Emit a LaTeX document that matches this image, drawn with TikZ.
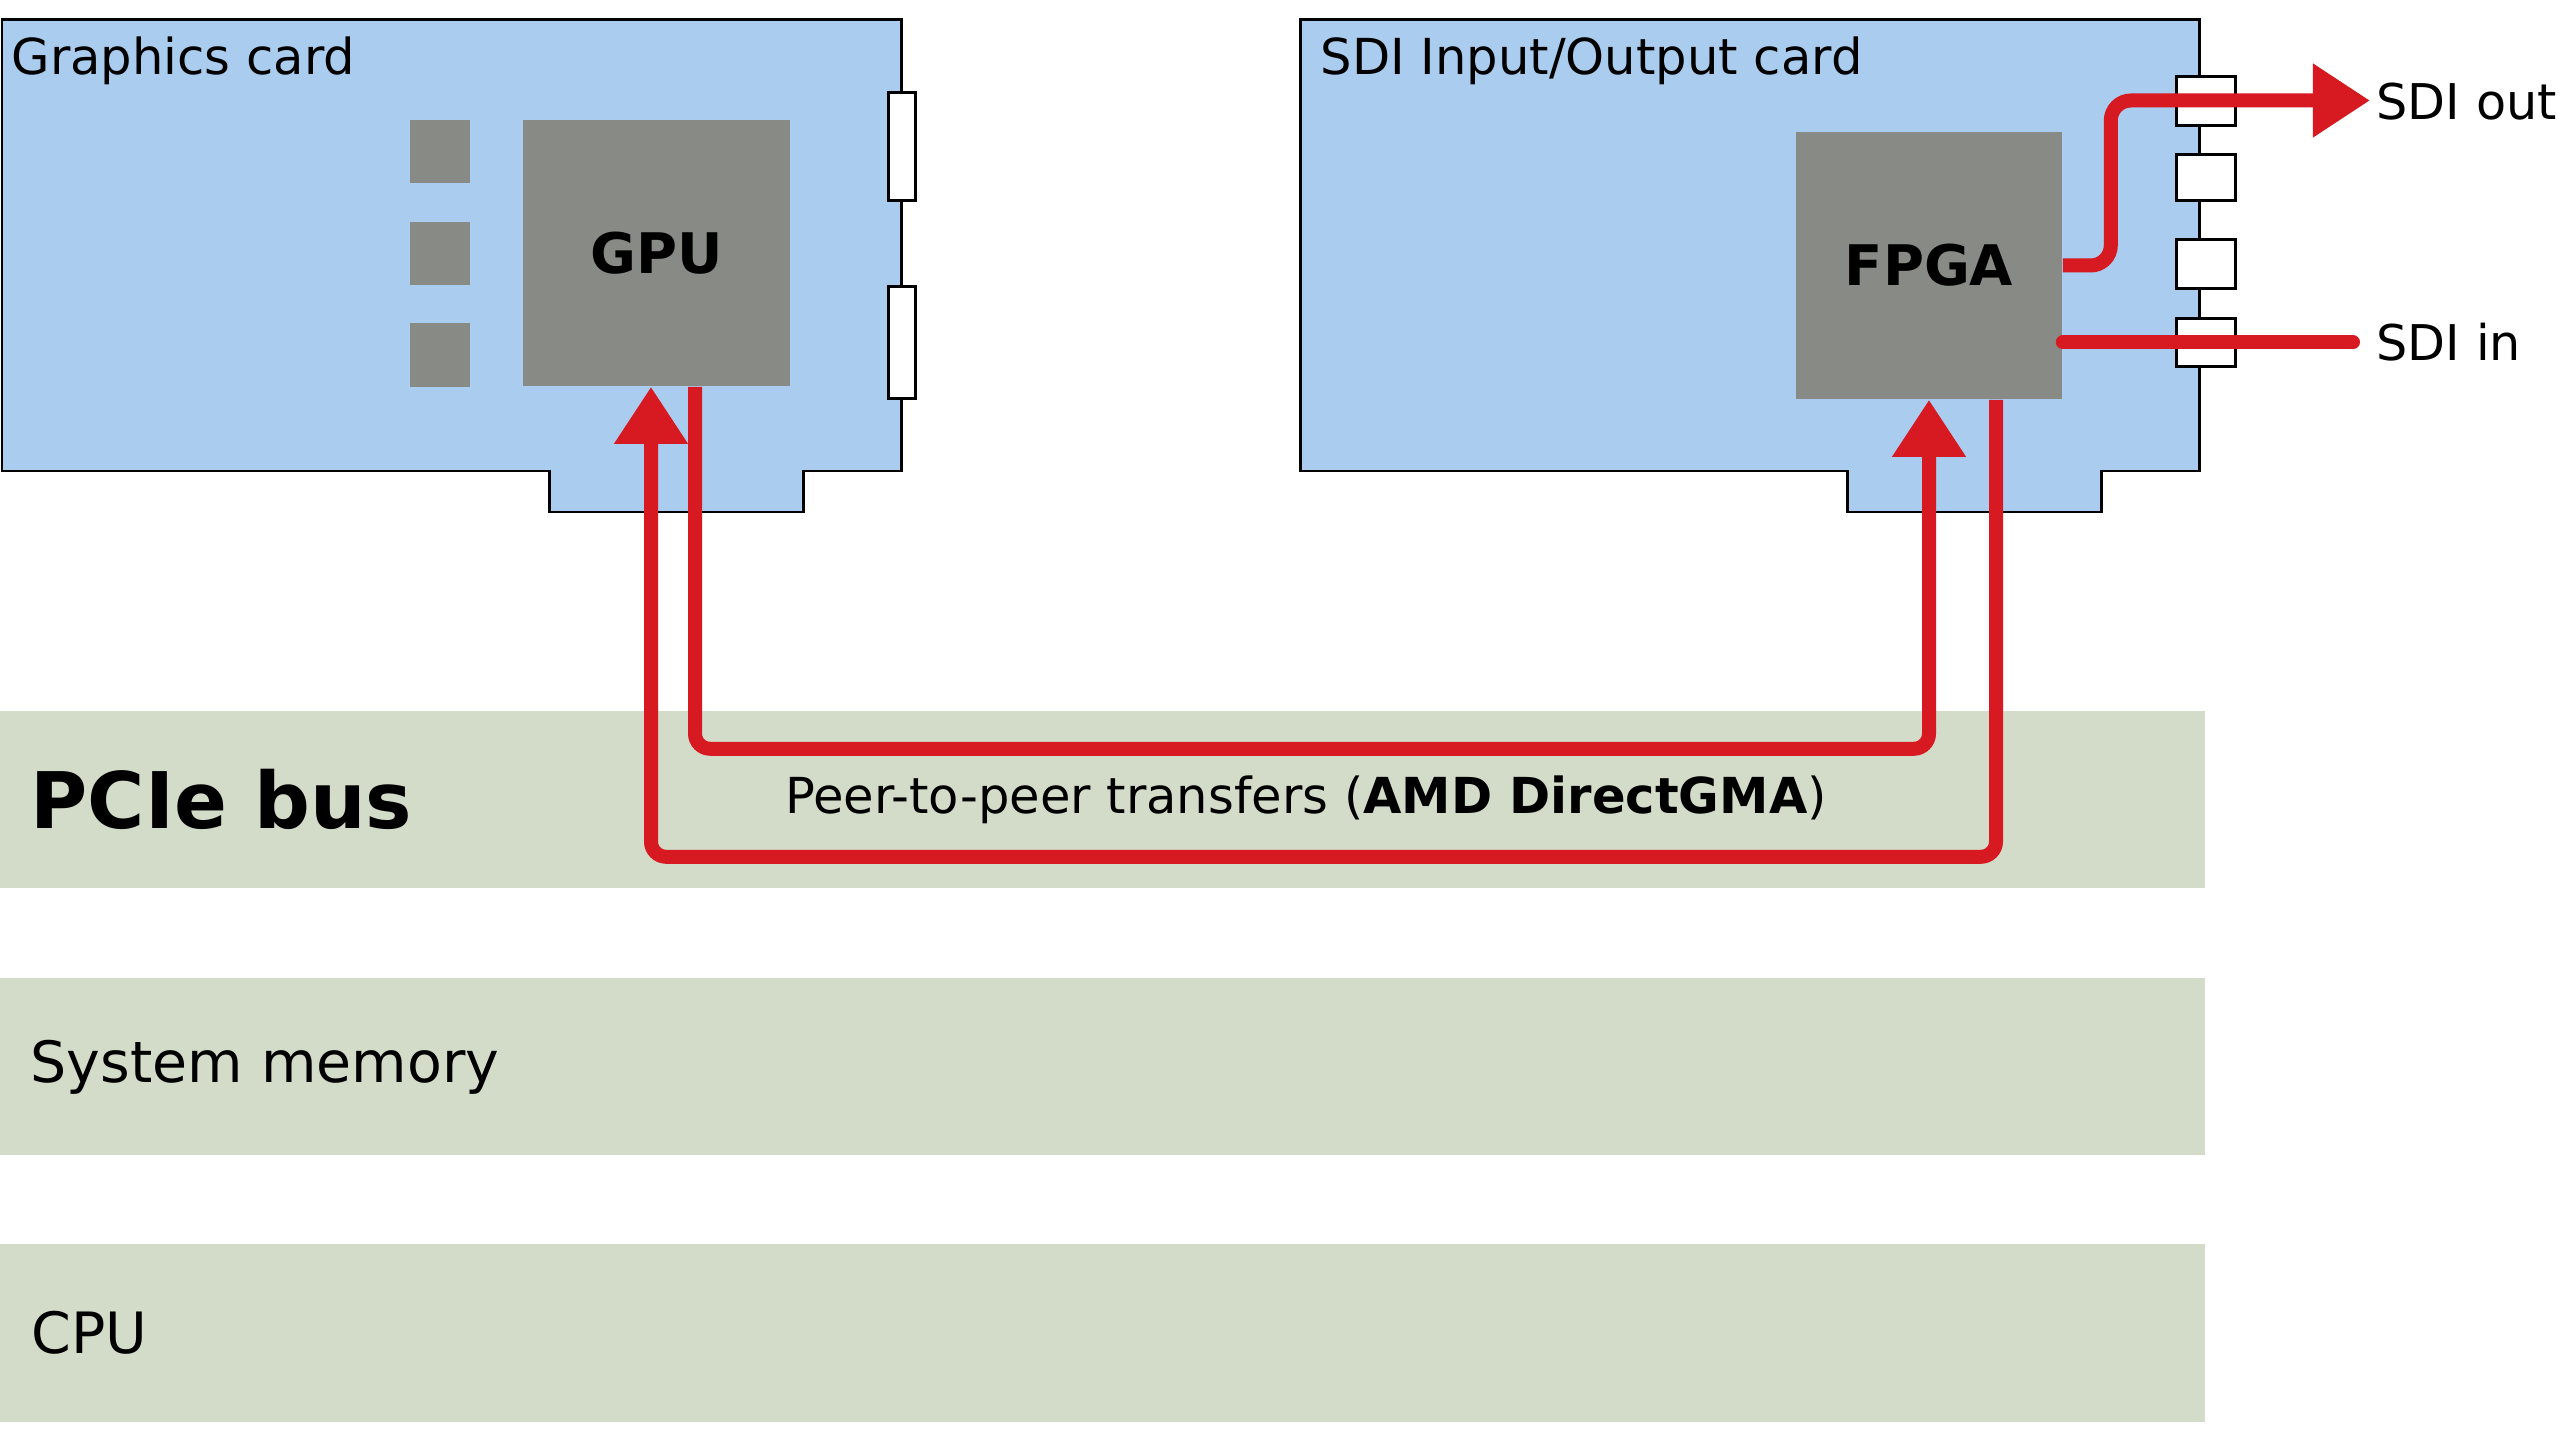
\documentclass[tikz,border=0pt]{standalone}
\usepackage{fontspec}
\setmainfont{DejaVu Sans}
\usetikzlibrary{arrows.meta,calc}
\definecolor{cardblue}{RGB}{170,204,238}
\definecolor{chipgray}{RGB}{136,138,133}
\definecolor{busgreen}{RGB}{211,220,200}
\definecolor{flowred}{RGB}{215,25,33}
\newcommand{\setfs}[1]{\fontsize{#1}{#1}\selectfont}
\begin{document}
\begin{tikzpicture}[x=0.01cm,y=-0.01cm,
  board/.style={fill=cardblue,draw=black,line width=0.85pt,line join=miter},
  chip/.style={fill=chipgray,draw=none,inner sep=0pt,font=\bfseries\setfs{15.9pt}},
  memchip/.style={fill=chipgray,draw=none,inner sep=0pt,minimum width=0.6cm,minimum height=0.63cm},
  port/.style={fill=white,draw=black,line width=0.85pt,inner sep=0pt},
  band/.style={fill=busgreen,draw=none,inner sep=0pt,minimum width=22.04cm,minimum height=1.77cm},
  flow/.style={draw=flowred,line width=3.98pt,rounded corners=4.3pt},
  tip/.style={-{Triangle[width=0.7cm,length=0.57cm]}},
  lbl/.style={anchor=base west,inner sep=0pt,font=\setfs{14.1pt}},
  biglbl/.style={anchor=base west,inner sep=0pt,font=\setfs{16.2pt}}
]
\useasboundingbox (0,0) rectangle (2560,1440);

% bus bands
\node[band] (pcie) at (1102,799.5) {};
\node[band] (sysmem) at (1102,1066.5) {};
\node[band] (cpu) at (1102,1333) {};
\node[anchor=base west,inner sep=0pt,font=\bfseries\setfs{22.2pt}] (pcielbl) at (30,829) {PCIe bus};
\node[biglbl] (sysmemlbl) at (30,1082) {System memory};
\node[biglbl] (cpulbl) at (31,1353) {CPU};

% graphics card
\draw[board] (2,20) -- (901,20) -- (901,471) -- (803,471) -- (803,512) -- (549,512)
  -- (549,471) -- (2,471) -- cycle;
\node[port,minimum width=0.27cm,minimum height=1.07cm] (gp1) at (902,146.5) {};
\node[port,minimum width=0.27cm,minimum height=1.11cm] (gp2) at (902,342.5) {};
\node[memchip] (mem1) at (440,151.5) {};
\node[memchip] (mem2) at (440,253.5) {};
\node[memchip] (mem3) at (440,355) {};
\node[chip,minimum width=2.67cm,minimum height=2.66cm] (gpu) at (656.5,253) {GPU};
\node[lbl] (gclbl) at (11,75) {Graphics card};

% SDI card
\draw[board] (1300,20) -- (2199,20) -- (2199,471) -- (2101,471) -- (2101,512) -- (1847,512)
  -- (1847,471) -- (1300,471) -- cycle;
\node[port,minimum width=0.585cm,minimum height=0.485cm] (sp1) at (2206,100.8) {};
\node[port,minimum width=0.585cm,minimum height=0.46cm] (sp2) at (2206,177.5) {};
\node[port,minimum width=0.585cm,minimum height=0.49cm] (sp3) at (2206,264) {};
\node[port,minimum width=0.585cm,minimum height=0.485cm] (sp4) at (2206,342.3) {};
\node[chip,minimum width=2.66cm,minimum height=2.67cm] (fpga) at (1929,265.5) {FPGA};
\node[lbl] (sdilbl) at (1320,75) {SDI Input/Output card};

% SDI out / in
\coordinate (outtip) at (2370,100.5);
\coordinate (inend) at (2353,342.3);
\draw[flow,tip,rounded corners=5.7pt] (fpga.east) -- ++(48,0) |- (outtip);
\draw[flow,line cap=round] (fpga.east |- inend) -- (inend);
\node[lbl,font=\setfs{14pt}] (outlbl) at (2376,120) {SDI out};
\node[lbl,font=\setfs{14pt}] (inlbl) at (2376,361) {SDI in};

% peer-to-peer transfers
\draw[flow,tip] ($(gpu.south)+(38.5,0)$) -- ++(0,362) -| (fpga.south);
\draw[flow,tip] ($(fpga.south)+(67,0)$) -- ++(0,457) -| ($(gpu.south)+(-5.5,0)$);
\node[anchor=base,inner sep=0pt,font=\setfs{14.1pt}] (p2p) at (1306,814)
  {Peer-to-peer transfers (\textbf{AMD DirectGMA})};
\end{tikzpicture}
\end{document}
